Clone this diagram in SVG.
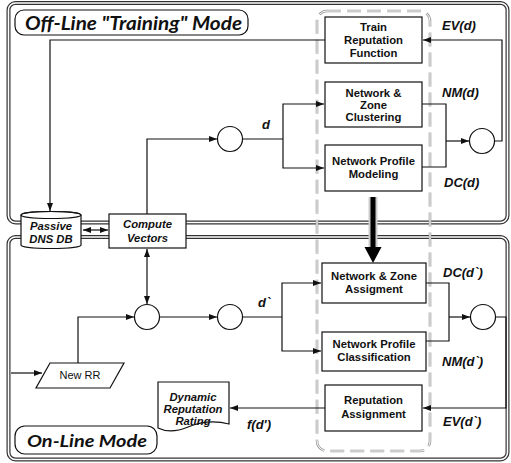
<svg xmlns="http://www.w3.org/2000/svg" width="511" height="463" viewBox="0 0 511 463">
<style>
.frameo{fill:none;stroke:#333;stroke-width:4}
.framei{fill:none;stroke:#fff;stroke-width:1.6}
.box{fill:#fff;stroke:#111;stroke-width:1.2}
.bt{font-family:"Liberation Sans",Arial,sans-serif;font-weight:bold;font-size:11.3px;text-anchor:middle;fill:#111}
.bi{font-family:"Liberation Sans",Arial,sans-serif;font-weight:bold;font-style:italic;font-size:11.3px;text-anchor:middle;fill:#111}
.lb{font-family:"Liberation Sans",Arial,sans-serif;font-weight:bold;font-style:italic;font-size:13px;fill:#111}
.ttl{font-family:Lato,"Open Sans",sans-serif;font-weight:bold;font-style:italic;fill:#111}
.ln{fill:none;stroke:#111;stroke-width:1.2}
.dsho{fill:none;stroke:#999;stroke-width:2.6;stroke-dasharray:14 6}
.dshi{fill:none;stroke:#fff;stroke-width:1;stroke-dasharray:14 6}
</style>
<defs>
<marker id="ah" markerUnits="userSpaceOnUse" markerWidth="9" markerHeight="7" refX="8" refY="3" orient="auto-start-reverse">
<path d="M0,0 L8,3 L0,6 z" fill="#111"/>
</marker>
</defs>
<rect width="511" height="463" fill="#fff"/>
<g id="frames">
<rect class="frameo" x="8.5" y="3" width="499" height="219.5" rx="7"/>
<rect class="framei" x="8.5" y="3" width="499" height="219.5" rx="7"/>
<rect class="frameo" x="8.5" y="237" width="499" height="222.5" rx="7"/>
<rect class="framei" x="8.5" y="237" width="499" height="222.5" rx="7"/>
</g>
<g id="column">
<rect class="dsho" x="317" y="11" width="113" height="440" rx="10"/>
<rect class="dshi" x="317" y="11" width="113" height="440" rx="10"/>
</g>
<g id="title-offline">
<rect class="box" x="15" y="10" width="233" height="25" rx="9"/>
<text class="ttl" x="25" y="30" font-size="19" textLength="217" lengthAdjust="spacingAndGlyphs">Off-Line "Training" Mode</text>
</g>
<g id="title-online">
<rect class="box" x="15" y="426" width="142" height="28" rx="10"/>
<text class="ttl" x="27" y="447" font-size="17" textLength="120" lengthAdjust="spacingAndGlyphs">On-Line Mode</text>
</g>
<g id="connectors">
<path class="ln" d="M325,40 H50 V211" marker-end="url(#ah)"/>
<path class="ln" d="M147,214 V139 H217" marker-end="url(#ah)"/>
<path class="ln" d="M83,230 H108" marker-start="url(#ah)" marker-end="url(#ah)"/>
<path class="ln" d="M147,249 V304" marker-start="url(#ah)" marker-end="url(#ah)"/>
<path class="ln" d="M242.5,139 H283"/>
<path class="ln" d="M283,139 V104 H324" marker-end="url(#ah)"/>
<path class="ln" d="M283,139 V168 H324" marker-end="url(#ah)"/>
<path class="ln" d="M422,104 H446 V167 H422"/>
<path class="ln" d="M446,141 H469" marker-end="url(#ah)"/>
<path class="ln" d="M494.5,141 H502 V40 H423" marker-end="url(#ah)"/>
<path d="M373,197 V250" stroke="#ccc" stroke-width="9" fill="none"/>
<path d="M373,197 V250" stroke="#000" stroke-width="5" fill="none"/>
<polygon points="364.5,247 381.5,247 373,263" fill="#000"/>
<path class="ln" d="M11,373 H42" marker-end="url(#ah)"/>
<path class="ln" d="M78,363 V317 H134" marker-end="url(#ah)"/>
<path class="ln" d="M159.5,317 H217" marker-end="url(#ah)"/>
<path class="ln" d="M242.5,317 H282"/>
<path class="ln" d="M282,317 V283 H321" marker-end="url(#ah)"/>
<path class="ln" d="M282,317 V351 H321" marker-end="url(#ah)"/>
<path class="ln" d="M426,283 H449 V341 H426"/>
<path class="ln" d="M449,317 H470" marker-end="url(#ah)"/>
<path class="ln" d="M495.5,317 H506 V408 H423" marker-end="url(#ah)"/>
<path class="ln" d="M325,408 H230" marker-end="url(#ah)"/>
</g>
<g id="passive-dns-db">
<path class="box" d="M21,215 V245 A30,3.5 0 0 0 81,245 V215 A30,3.5 0 0 0 21,215 Z"/>
<ellipse cx="51" cy="215" rx="30" ry="3.5" fill="none" stroke="#111" stroke-width="1.2"/>
<text class="bi" x="51" y="230" font-size="12">Passive</text>
<text class="bi" x="51" y="243" font-size="12">DNS DB</text>
</g>
<g id="compute-vectors">
<rect class="box" x="109" y="214" width="77" height="34"/>
<text class="bi" x="147.5" y="228" font-size="12">Compute</text>
<text class="bi" x="147.5" y="242" font-size="12">Vectors</text>
</g>
<g id="train-reputation">
<rect class="box" x="325" y="17" width="97" height="46"/>
<text class="bt" x="373.5" y="31">Train</text>
<text class="bt" x="373.5" y="44">Reputation</text>
<text class="bt" x="373.5" y="57">Function</text>
</g>
<g id="zone-clustering">
<rect class="box" x="325" y="82" width="97" height="45"/>
<text class="bt" x="373.5" y="97">Network &amp;</text>
<text class="bt" x="373.5" y="109">Zone</text>
<text class="bt" x="373.5" y="121">Clustering</text>
</g>
<g id="profile-modeling">
<rect class="box" x="325" y="145" width="97" height="46"/>
<text class="bt" x="373.5" y="165">Network Profile</text>
<text class="bt" x="373.5" y="178">Modeling</text>
</g>
<g id="zone-assigment">
<rect class="box" x="322" y="263" width="104" height="40"/>
<text class="bt" x="374" y="280">Network &amp; Zone</text>
<text class="bt" x="374" y="293">Assigment</text>
</g>
<g id="profile-classification">
<rect class="box" x="322" y="332" width="104" height="39"/>
<text class="bt" x="374" y="348">Network Profile</text>
<text class="bt" x="374" y="361">Classification</text>
</g>
<g id="reputation-assignment">
<rect class="box" x="325" y="385" width="97" height="46"/>
<text class="bt" x="373.5" y="404">Reputation</text>
<text class="bt" x="373.5" y="418">Assignment</text>
</g>
<g id="circle-d"><circle class="box" cx="230" cy="139" r="12.5"/></g>
<g id="circle-top-right"><circle class="box" cx="482" cy="141" r="12.5"/></g>
<g id="circle-in"><circle class="box" cx="147" cy="317" r="12.5"/></g>
<g id="circle-d2"><circle class="box" cx="230" cy="317" r="12.5"/></g>
<g id="circle-bottom-right"><circle class="box" cx="483" cy="317" r="12.5"/></g>
<g id="new-rr">
<polygon class="box" points="50,363 124,363 110,388 36,388"/>
<text x="80" y="379" font-family="Liberation Sans,Arial,sans-serif" font-size="11" text-anchor="middle" fill="#111">New RR</text>
</g>
<g id="dynamic-rating">
<path class="box" d="M158,382 H229 V424 C214,420 200,422 188,427 C176,432 166,432 158,428 Z"/>
<text class="bi" x="193" y="401">Dynamic</text>
<text class="bi" x="193" y="413">Reputation</text>
<text class="bi" x="193" y="425">Rating</text>
</g>
<g id="labels">
<text class="lb" x="262" y="129">d</text>
<text class="lb" x="442" y="30">EV(d)</text>
<text class="lb" x="442" y="97">NM(d)</text>
<text class="lb" x="444" y="187">DC(d)</text>
<text class="lb" x="258" y="307">d`</text>
<text class="lb" x="443" y="277">DC(d`)</text>
<text class="lb" x="442" y="366">NM(d`)</text>
<text class="lb" x="443" y="426">EV(d`)</text>
<text class="lb" x="247" y="429">f(d')</text>
</g>
</svg>
